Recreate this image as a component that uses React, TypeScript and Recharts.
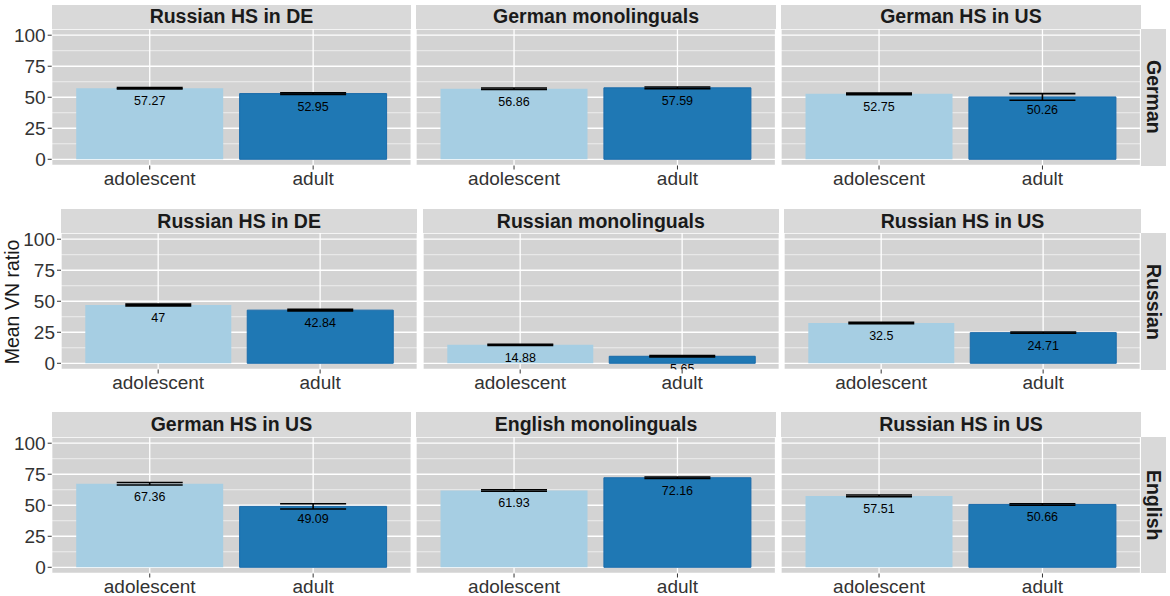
import React from 'react';
import { BarChart, Bar, XAxis, YAxis, CartesianGrid, ErrorBar, Cell, LabelList } from 'recharts';

// categories and colours
const ageGroups = ['adolescent', 'adult'];
const barColors = ['#A6CEE3', '#1F78B4'];
const rowLabels = ['German', 'Russian', 'English'];
const panelTitles = [
  ['Russian HS in DE', 'German monolinguals', 'German HS in US'],
  ['Russian HS in DE', 'Russian monolinguals', 'Russian HS in US'],
  ['German HS in US', 'English monolinguals', 'Russian HS in US'],
];

// mean VN ratio per panel (adolescent, adult) and standard errors
const germanMeans = [[57.27, 52.95], [56.86, 57.59], [52.75, 50.26]];
const germanErrors = [[0.5, 0.6], [0.6, 0.7], [0.6, 2.7]];
const russianMeans = [[47, 42.84], [14.88, 5.65], [32.5, 24.71]];
const russianErrors = [[0.7, 0.6], [0.5, 0.5], [0.6, 0.5]];
const englishMeans = [[67.36, 49.09], [61.93, 72.16], [57.51, 50.66]];
const englishErrors = [[1.0, 2.1], [0.6, 0.6], [0.7, 0.6]];

const yTicks = [0, 25, 50, 75, 100];
const yMinorTicks = [12.5, 37.5, 62.5, 87.5];

const rowMeans = [germanMeans, russianMeans, englishMeans];
const rowErrors = [germanErrors, russianErrors, englishErrors];

// layout
const ROWS = [
  { top: 29, lefts: [51.7, 416.3, 781.2], width: 359.5 },
  { top: 233.3, lefts: [61, 422.7, 784.4], width: 356.3 },
  { top: 436.7, lefts: [51.7, 416.3, 781.2], width: 359.5 },
];
const PANEL_H = 136.5;
const STRIP_H = 24.5;
const AXIS_H = 32;
const PANEL_BG = '#D3D3D3';
const STRIP_BG = '#D9D9D9';
const FONT = '"Liberation Sans", Arial, Helvetica, sans-serif';

const valueLabel = (clipKey: string, pxPerUnit: number) => (props: any) => {
  const { x, y, width, height, value, index } = props;
  const cx = Number(x) + Number(width) / 2;
  const top = Number(y);
  const bottom = top + Number(height) + 5 * pxPerUnit;
  const cid = `${clipKey}-${index}`;
  return (
    <g>
      <clipPath id={cid}>
        <rect x={cx - 60} y={top - 20} width={120} height={bottom - top + 20} />
      </clipPath>
      <text
        x={cx}
        y={top + 17}
        textAnchor="middle"
        fontSize={12.5}
        fill="#000"
        clipPath={`url(#${cid})`}
      >
        {value}
      </text>
    </g>
  );
};

function Panel({ row, col }: { row: number; col: number }) {
  const layout = ROWS[row];
  const left = layout.lefts[col];
  const width = layout.width;
  const showY = col === 0;
  const yw = showY ? left : 0;
  const data = ageGroups.map((g, i) => ({
    group: g,
    mean: rowMeans[row][col][i],
    err: rowErrors[row][col][i],
  }));
  const pad = width / 22;
  return (
    <div style={{ position: 'absolute', left: left - yw, top: layout.top }}>
      <BarChart
        width={yw + width}
        height={PANEL_H + AXIS_H}
        data={data}
        margin={{ top: 0, right: 0, bottom: 0, left: 0 }}
        barCategoryGap="5%"
      >
        <CartesianGrid
          fill={PANEL_BG}
          stroke="#ffffff"
          strokeWidth={0.6}
          vertical={false}
          horizontalValues={yMinorTicks}
        />
        <CartesianGrid stroke="#ffffff" strokeWidth={1.3} />
        <XAxis
          dataKey="group"
          type="category"
          interval={0}
          height={AXIS_H}
          padding={{ left: pad, right: pad }}
          axisLine={false}
          tickSize={4}
          tickMargin={2}
          tickLine={{ stroke: '#333333' }}
          tick={{ fill: '#333333', fontSize: 19 }}
        />
        <YAxis
          type="number"
          domain={[-5, 105]}
          ticks={yTicks}
          interval={0}
          width={yw}
          hide={!showY}
          axisLine={false}
          tickSize={4}
          tickMargin={2}
          tickLine={{ stroke: '#333333' }}
          tick={{ fill: '#333333', fontSize: 19 }}
        />
        <Bar dataKey="mean" isAnimationActive={false}>
          {data.map((d, i) => (
            <Cell key={d.group} fill={barColors[i]} stroke={i === 1 ? '#1A6AAA' : 'none'} />
          ))}
          <ErrorBar
            dataKey="err"
            width={33}
            stroke="#000000"
            strokeWidth={1.6}
            isAnimationActive={false}
          />
          <LabelList dataKey="mean" content={valueLabel(`lbl-${row}-${col}`, PANEL_H / 110)} />
        </Bar>
      </BarChart>
    </div>
  );
}

export default function App() {
  return (
    <div
      style={{
        position: 'absolute',
        left: 0,
        top: 0,
        width: 1170,
        height: 596,
        background: '#ffffff',
        fontFamily: FONT,
        overflow: 'hidden',
      }}
    >
      {ROWS.map((layout, r) => (
        <React.Fragment key={r}>
          {layout.lefts.map((left, c) => (
            <React.Fragment key={c}>
              <div
                style={{
                  position: 'absolute',
                  left,
                  top: layout.top - STRIP_H,
                  width: layout.width,
                  height: STRIP_H,
                  background: STRIP_BG,
                  display: 'flex',
                  alignItems: 'center',
                  justifyContent: 'center',
                  fontWeight: 'bold',
                  fontSize: 19.5,
                  color: '#1A1A1A',
                }}
              >
                {panelTitles[r][c]}
              </div>
              <Panel row={r} col={c} />
            </React.Fragment>
          ))}
          <div
            style={{
              position: 'absolute',
              left: layout.lefts[2] + layout.width,
              top: layout.top,
              width: 25.7,
              height: PANEL_H,
              background: STRIP_BG,
              display: 'flex',
              alignItems: 'center',
              justifyContent: 'center',
              writingMode: 'vertical-rl',
              fontWeight: 'bold',
              fontSize: 19.5,
              color: '#1A1A1A',
            }}
          >
            {rowLabels[r]}
          </div>
        </React.Fragment>
      ))}
      <div
        style={{
          position: 'absolute',
          left: 12,
          top: ROWS[1].top + PANEL_H / 2,
          transform: 'translate(-50%, -50%) rotate(-90deg)',
          whiteSpace: 'nowrap',
          fontSize: 19.5,
          color: '#1A1A1A',
        }}
      >
        Mean VN ratio
      </div>
    </div>
  );
}
